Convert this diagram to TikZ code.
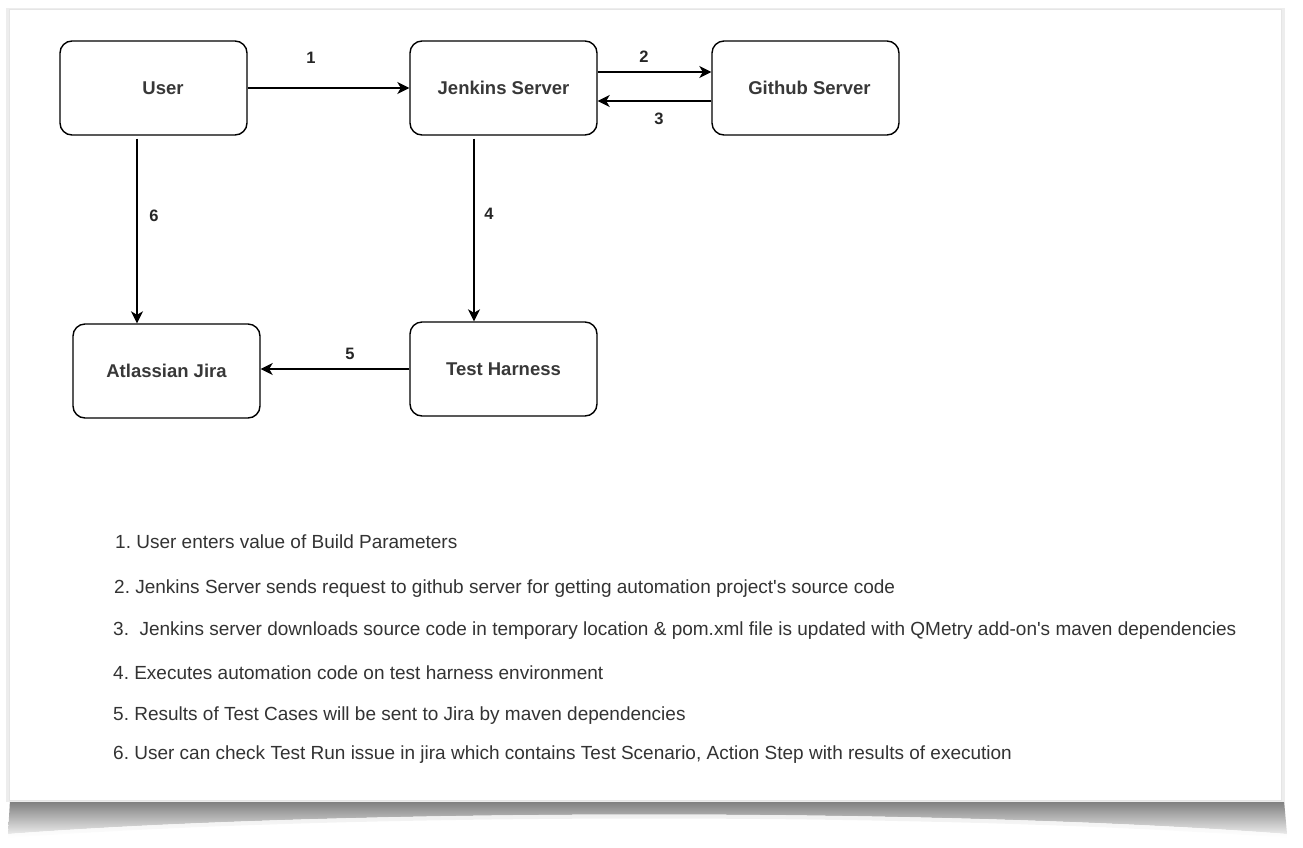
\documentclass[tikz,border=0pt]{standalone}
\usepackage{fontspec}
\setmainfont{Liberation Sans}[Ligatures=TeXOff]
\usetikzlibrary{arrows.meta}
\frenchspacing
\begin{document}
\begin{tikzpicture}[x=1pt,y=-1pt,
  box/.style={draw=black, line width=1.4pt, rounded corners=12pt, fill=white,
    minimum width=187pt, minimum height=94pt, inner sep=0pt,
    font=\fontsize{18.5}{22}\selectfont\bfseries, text=black!78},
  conn/.style={line width=1.4pt, -{Stealth[length=12pt,width=12pt,inset=3.5pt]}},
  num/.style={font=\fontsize{16.5}{19}\selectfont\bfseries, text=black!85, inner sep=0pt},
  item/.style={anchor=west, font=\fontsize{19}{22}\selectfont, text=black!80, inner sep=0pt}]
\useasboundingbox (0,0) rectangle (1303,847);
% curved shadow under the card
\shade[top color=black!52, bottom color=black!8]
  (10,800) -- (1284,800) -- (1287,834) .. controls (950,808) and (350,808) .. (8,834) -- cycle;
\shade[top color=black!8, bottom color=white]
  (8,834) .. controls (350,808) and (950,808) .. (1287,834) -- (1287,838) .. controls (950,812) and (350,812) .. (8,838) -- cycle;
% card
\fill[black!7] (6,8) rectangle (1285,802);
\fill[white, draw=black!10, line width=0.5pt] (9,9) rectangle (1281,800);
% nodes
\node[box] (user) at (153.5,88) {\hspace*{19pt}User};
\node[box] (jen) at (503.5,88) {Jenkins Server};
\node[box] (git) at (805.5,88) {\hspace*{8pt}Github Server};
\node[box] (jira) at (166.5,371) {Atlassian Jira};
\node[box] (th) at (503.5,369) {Test Harness};
% connectors
\draw[conn] (user.east) -- (jen.west);
\draw[conn] ([yshift=16pt]jen.east) -- ([yshift=16pt]git.west);
\draw[conn] ([yshift=-13pt]git.west) -- ([yshift=-13pt]jen.east);
\draw[conn] ([xshift=-16.5pt,yshift=-3pt]user.south) -- ([xshift=-16.5pt]user.south |- jira.north);
\draw[conn] ([xshift=-29.5pt,yshift=-3pt]jen.south) -- ([xshift=-29.5pt]jen.south |- th.north);
\draw[conn] (th.west) -- (th.west -| jira.east);
% labels
\node[num] (n1) at (311,58) {1};
\node[num] (n2) at (644,57) {2};
\node[num] (n3) at (659,119) {3};
\node[num] (n4) at (489,214) {4};
\node[num] (n5) at (350,354) {5};
\node[num] (n6) at (154,216) {6};
% list
\node[item] (l1) at (115,542) {1. User enters value of Build Parameters};
\node[item] (l2) at (114,589) {2. Jenkins Server sends request to github server for getting automation project's source code};
\node[item] (l3) at (113,631) {3.\ \ Jenkins server downloads source code in temporary location \& pom.xml file is updated with QMetry add-on's maven dependencies};
\node[item] (l4) at (113,673) {4. Executes automation code on test harness environment};
\node[item] (l5) at (113,716) {5. Results of Test Cases will be sent to Jira by maven dependencies};
\node[item] (l6) at (113,755) {6. User can check Test Run issue in jira which contains Test Scenario, Action Step with results of execution};
\end{tikzpicture}
\end{document}
